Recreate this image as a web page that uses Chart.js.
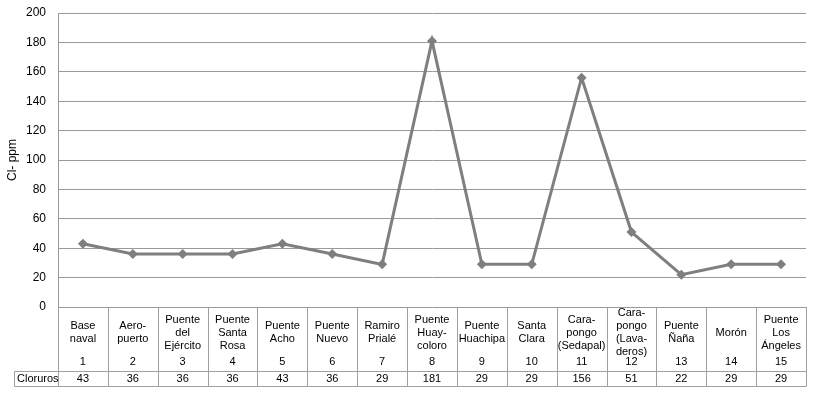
<!DOCTYPE html>
<html>
<head>
<meta charset="utf-8">
<script src="https://cdn.jsdelivr.net/npm/chart.js@4"></script>
<style>
  html, body { margin: 0; padding: 0; background: #fff; }
  #wrap { width: 821px; height: 395px; }
</style>
</head>
<body>
<div id="wrap"><canvas id="cloruros"></canvas></div>
<script>
// puntos de muestreo (nombre partido en líneas, igual que en la tabla)
const estaciones = [
  ["Base", "naval"],
  ["Aero-", "puerto"],
  ["Puente", "del", "Ejército"],
  ["Puente", "Santa", "Rosa"],
  ["Puente", "Acho"],
  ["Puente", "Nuevo"],
  ["Ramiro", "Prialé"],
  ["Puente", "Huay-", "coloro"],
  ["Puente", "Huachipa"],
  ["Santa", "Clara"],
  ["Cara-", "pongo", "(Sedapal)"],
  ["Cara-", "pongo", "(Lava-", "deros)"],
  ["Puente", "Ñaña"],
  ["Morón"],
  ["Puente", "Los", "Ángeles"]
];
const numeros = ["1", "2", "3", "4", "5", "6", "7", "8", "9", "10", "11", "12", "13", "14", "15"];
const cloruros = [43, 36, 36, 36, 43, 36, 29, 181, 29, 29, 156, 51, 22, 29, 29];
const serieNombre = "Cloruros";
const yTicks = { min: 0, max: 200, step: 20 };

const gris = "#7f7f7f";
const lineaTabla = "#a0a0a0";
const fuente = "'Liberation Sans', Arial, sans-serif";

// dibuja la rejilla de la tabla de datos bajo el eje x
const tablaPlugin = {
  id: "tabla",
  afterDraw(chart) {
    const ctx = chart.ctx;
    const area = chart.chartArea;
    const xs = chart.scales.x;
    const xv = chart.scales.xVal;
    const step = xs.getPixelForValue(1) - xs.getPixelForValue(0);
    ctx.save();
    ctx.strokeStyle = lineaTabla;
    ctx.lineWidth = 1;
    ctx.beginPath();
    for (let i = 0; i <= estaciones.length; i++) {
      const x = Math.round(xs.getPixelForValue(0) - step / 2 + i * step) + 0.5;
      ctx.moveTo(x, area.bottom);
      ctx.lineTo(x, Math.round(xv.bottom) + 0.5);
    }
    const yTop = Math.round(xv.top) + 0.5;
    const yBot = Math.round(xv.bottom) + 0.5;
    ctx.moveTo(14.5, yTop); ctx.lineTo(Math.round(xs.right) + 0.5, yTop);
    ctx.moveTo(14.5, yBot); ctx.lineTo(Math.round(xs.right) + 0.5, yBot);
    ctx.moveTo(14.5, yTop); ctx.lineTo(14.5, yBot);
    ctx.stroke();
    ctx.fillStyle = "#000";
    ctx.font = "11px " + fuente;
    ctx.textAlign = "left";
    ctx.textBaseline = "middle";
    ctx.fillText(serieNombre, 17, (xv.top + xv.bottom) / 2 + 0.5);
    ctx.restore();
  }
};

const ejeTabla = (labels, alto, padding, weight) => ({
  type: "category",
  position: "bottom",
  labels: labels,
  offset: true,
  weight: weight,
  grid: { display: false, drawTicks: false },
  border: { display: false },
  ticks: {
    autoSkip: false,
    maxRotation: 0,
    padding: padding,
    color: "#000",
    font: { family: fuente, size: 11, lineHeight: "13px" }
  },
  afterFit: (scale) => { scale.height = alto; }
});

new Chart(document.getElementById("cloruros"), {
  type: "line",
  data: {
    labels: estaciones,
    datasets: [{
      label: serieNombre,
      data: cloruros,
      borderColor: gris,
      backgroundColor: gris,
      borderWidth: 3,
      tension: 0,
      pointStyle: "rectRot",
      pointRadius: 5,
      pointHoverRadius: 5,
      pointBackgroundColor: gris,
      pointBorderColor: gris,
      pointBorderWidth: 0
    }]
  },
  options: {
    responsive: true,
    maintainAspectRatio: false,
    animation: false,
    events: [],
    layout: { padding: { top: 13, right: 15, bottom: 9, left: 0 } },
    plugins: {
      legend: { display: false },
      tooltip: { enabled: false }
    },
    scales: {
      x: Object.assign(ejeTabla(null, 50, 6, 1), {
        labels: undefined,
        ticks: {
          autoSkip: false,
          maxRotation: 0,
          padding: 6,
          crossAlign: "center",
          color: "#000",
          font: { family: fuente, size: 11, lineHeight: "13px" }
        }
      }),
      xNum: ejeTabla(numeros, 14, -1.5, 2),
      xVal: ejeTabla(cloruros.map(String), 15, 1, 3),
      y: {
        min: yTicks.min,
        max: yTicks.max,
        grid: { color: "#9a9a9a", lineWidth: 1, drawTicks: false },
        border: { display: true, color: "#9a9a9a" },
        ticks: {
          stepSize: yTicks.step,
          padding: 12,
          color: "#000",
          font: { family: fuente, size: 12 }
        },
        title: {
          display: true,
          text: "Cl- ppm",
          color: "#000",
          font: { family: fuente, size: 12 },
          padding: { top: 5, bottom: 0 }
        },
        afterFit: (scale) => {
          scale.width = 58;
          scale.paddingTop = 0;
          scale.paddingBottom = 0;
        }
      }
    }
  },
  plugins: [tablaPlugin]
});
</script>
</body>
</html>
